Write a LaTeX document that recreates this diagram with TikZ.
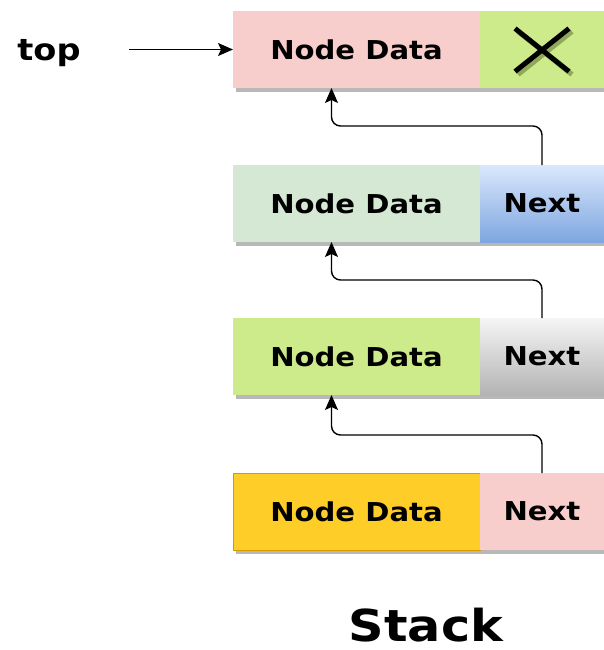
\documentclass[tikz,border=0pt]{standalone}
\usepackage{fontspec}
\setmainfont{DejaVu Sans}[FakeStretch=1.12]
\usetikzlibrary{arrows.meta,calc,shadows}

\definecolor{pinkfill}{HTML}{F8CECC}
\definecolor{limefill}{HTML}{CDEB8B}
\definecolor{mintfill}{HTML}{D5E8D4}
\definecolor{bluetop}{HTML}{DAE8FC}
\definecolor{bluebot}{HTML}{7EA6E0}
\definecolor{graytop}{HTML}{F5F5F5}
\definecolor{graybot}{HTML}{B3B3B3}
\definecolor{goldfill}{HTML}{FFCD28}
\definecolor{goldline}{HTML}{D79B00}
\definecolor{crossshade}{HTML}{8FA85A}

\begin{document}
\begin{tikzpicture}
    [
        x=1pt,y=-1pt,
        >={Stealth[length=15pt,width=13pt,inset=3pt]},
        cell/.style={rectangle, anchor=north west, inner sep=0pt, outer sep=0pt, minimum height=77pt,
            font=\bfseries\fontsize{26}{30}\selectfont,
            drop shadow={shadow xshift=3pt, shadow yshift=-4pt, fill=black!28, opacity=1}},
        datacell/.style={cell, minimum width=247pt},
        nextcell/.style={cell, minimum width=124pt},
        link/.style={->, rounded corners=9pt, line width=1.4pt},
    ]

    \useasboundingbox (0,0) rectangle (604,650);

    % top node
    \node (d1) at (233,11)  [datacell, fill=pinkfill] {Node Data};
    \node (n1) at (d1.north east) [nextcell, fill=limefill] {};
    \draw [crossshade, line width=5pt] ($(n1.center)+(-24,-18)$) -- ($(n1.center)+(30,25)$)
                                       ($(n1.center)+(-24,25)$) -- ($(n1.center)+(30,-18)$);
    \draw [black, line width=5pt]      ($(n1.center)+(-27,-21)$) -- ($(n1.center)+(27,22)$)
                                       ($(n1.center)+(-27,22)$) -- ($(n1.center)+(27,-21)$);

    % the rest of the stack
    \node (d2) at (233,165) [datacell, fill=mintfill] {Node Data};
    \node (n2) at (d2.north east) [nextcell, top color=bluetop, bottom color=bluebot] {Next};

    \node (d3) at (233,318) [datacell, fill=limefill] {Node Data};
    \node (n3) at (d3.north east) [nextcell, top color=graytop, bottom color=graybot] {Next};

    \node (d4) at (233,473) [datacell, fill=goldfill, draw=goldline] {Node Data};
    \node (n4) at (d4.north east) [nextcell, fill=pinkfill] {Next};

    % links
    \coordinate (in1) at ([xshift=-25pt]d1.south);
    \coordinate (in2) at ([xshift=-25pt]d2.south);
    \coordinate (in3) at ([xshift=-25pt]d3.south);

    \draw [link] (n2.north) -- ++(0,-39) -| (in1);
    \draw [link] (n3.north) -- ++(0,-38) -| (in2);
    \draw [link] (n4.north) -- ++(0,-38) -| (in3);

    % labels
    \node (top) at (49,61) [anchor=base, font=\bfseries\fontsize{30}{34}\selectfont] {top};
    \coordinate (topstart) at (129,49.5);
    \draw [->, line width=1.4pt] (topstart) -- (d1.west);

    \node (stack) at (426,641) [anchor=base, inner sep=0pt, font=\bfseries\fontsize{44}{50}\selectfont] {Stack};

\end{tikzpicture}
\end{document}
